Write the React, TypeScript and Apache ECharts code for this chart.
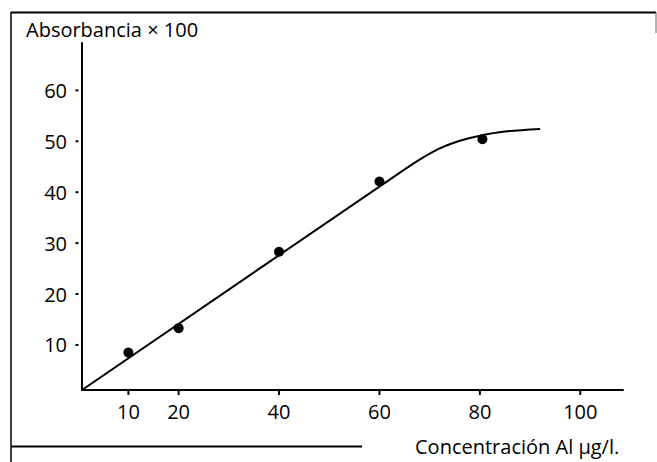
import React, { useEffect, useRef } from "react";
import * as echarts from "echarts";

const pointX = [10, 20, 40, 60, 80.5];
const pointY = [8.5, 13.3, 28.3, 42.1, 50.4];
const curveX = [0.76, 64, 68, 72, 76, 80, 85, 92];
const curveY = [1.16, 43.8, 46.4, 48.6, 50.1, 51.1, 51.9, 52.4];
const xTicks = [10, 20, 40, 60, 80, 100];
const yTicks = [10, 20, 30, 40, 50, 60];
const yTitle = "Absorbancia × 100";
const xTitle = "Concentración Al µg/l.";

const X_MIN = 0.76;
const X_MAX = 108.5;
const Y_MIN = 1.16;
const Y_MAX = 69.3;

const FONT = "Open Sans";

export default function App() {
  const ref = useRef<HTMLDivElement>(null);
  useEffect(() => {
    if (!ref.current) return;
    const chart = echarts.init(ref.current, null, { renderer: "svg" });
    chart.setOption({
      animation: false,
      backgroundColor: "#ffffff",
      grid: { left: 82, right: 34, top: 43, bottom: 72 },
      xAxis: {
        type: "value",
        min: X_MIN,
        max: X_MAX,
        splitLine: { show: false },
        axisLine: { show: true, lineStyle: { color: "#000", width: 2 } },
        axisTick: { show: false },
        axisLabel: { customValues: xTicks, margin: 11, color: "#000", fontSize: 20, fontFamily: FONT },
      },
      yAxis: {
        type: "value",
        min: Y_MIN,
        max: Y_MAX,
        splitLine: { show: false },
        axisLine: { show: true, lineStyle: { color: "#000", width: 2 } },
        axisTick: { show: false },
        axisLabel: { customValues: yTicks, margin: 15, color: "#000", fontSize: 20, fontFamily: FONT },
      },
      series: [
        {
          type: "line",
          data: curveX.map((x, i) => [x, curveY[i]]),
          smooth: 0.3,
          symbol: "none",
          lineStyle: { color: "#000", width: 2 },
          z: 2,
        },
        {
          type: "scatter",
          data: pointX.map((x, i) => [x, pointY[i]]),
          symbolSize: 10,
          itemStyle: { color: "#000", opacity: 1 },
          z: 3,
        },
        {
          type: "scatter",
          clip: false,
          silent: true,
          data: xTicks.map((v) => [v, Y_MIN]),
          symbol: "rect",
          symbolSize: [2, 4],
          symbolOffset: [0, 3],
          itemStyle: { color: "#000", opacity: 1 },
          z: 3,
        },
        {
          type: "scatter",
          clip: false,
          silent: true,
          data: yTicks.map((v) => [X_MIN, v]),
          symbol: "rect",
          symbolSize: [3, 2],
          symbolOffset: [-5, 0],
          itemStyle: { color: "#000", opacity: 1 },
          z: 3,
        },
      ],
      graphic: [
        { type: "line", shape: { x1: 11, y1: 12, x2: 11, y2: 462 }, style: { stroke: "#000", lineWidth: 1.5 } },
        { type: "line", shape: { x1: 11, y1: 12.5, x2: 656, y2: 12.5 }, style: { stroke: "#000", lineWidth: 2 } },
        { type: "line", shape: { x1: 656, y1: 12, x2: 656, y2: 33 }, style: { stroke: "#666", lineWidth: 1 } },
        { type: "line", shape: { x1: 11, y1: 446.5, x2: 362, y2: 446.5 }, style: { stroke: "#000", lineWidth: 2 } },
        {
          type: "text",
          left: 26,
          top: 19,
          style: { text: yTitle, fill: "#000", fontSize: 20, fontFamily: FONT },
        },
        {
          type: "text",
          left: 415,
          top: 436,
          style: { text: xTitle, fill: "#000", fontSize: 20, fontFamily: FONT },
        },
      ],
    });
    return () => chart.dispose();
  }, []);
  return (
    <div
      ref={ref}
      style={{ position: "fixed", left: 0, top: 0, width: 657, height: 462 }}
    />
  );
}
